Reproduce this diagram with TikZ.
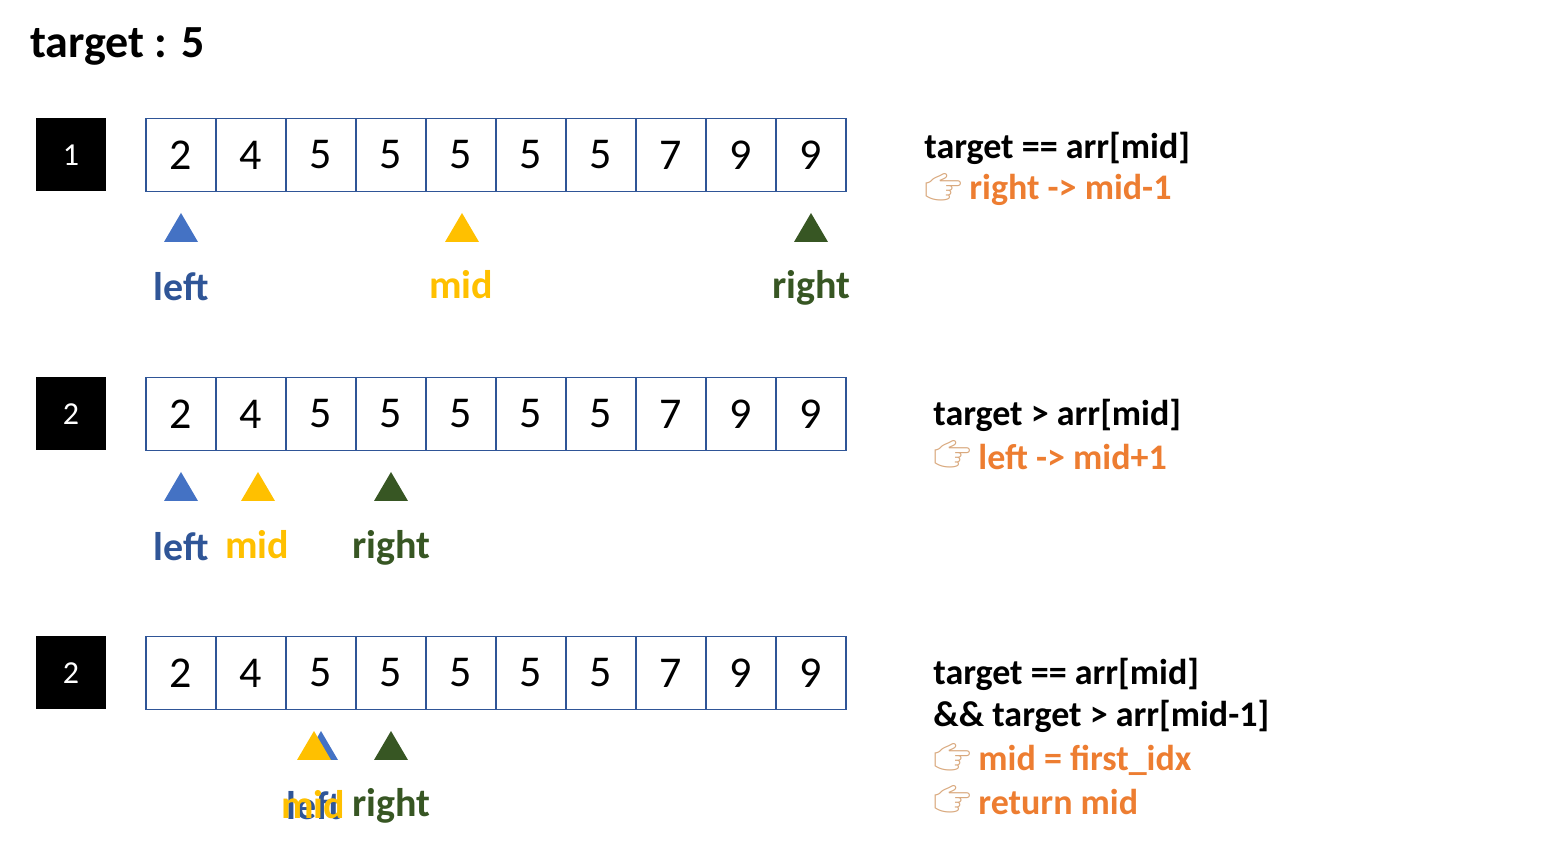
\documentclass[tikz,border=0pt]{standalone}
\usepackage{fontspec}
\setmainfont{Carlito}
\newfontfamily\emo{Noto Emoji}
\definecolor{cblue}{HTML}{4472C4}
\definecolor{ldblue}{HTML}{2F5597}
\definecolor{cyel}{HTML}{FFC000}
\definecolor{cgrn}{HTML}{375623}
\definecolor{corg}{HTML}{ED7D31}
\definecolor{skin}{HTML}{D9A97E}
\begin{document}
\begin{tikzpicture}[x=0.5pt,y=-0.5pt,
  cell/.style={draw=ldblue,line width=0.8pt,minimum width=35pt,minimum height=36.5pt,inner sep=0pt,font=\fontsize{22}{24}\selectfont},
  stepbox/.style={fill=black,text=white,minimum width=35pt,minimum height=36.5pt,inner sep=0pt,font=\fontsize{16}{18}\selectfont},
  lbl/.style={font=\bfseries\fontsize{20}{22}\selectfont,inner sep=0pt},
  txt/.style={font=\bfseries\fontsize{18}{21}\selectfont,anchor=west,inner sep=0pt},
  otxt/.style={txt,text=corg},
  hand/.style={font=\emo\fontsize{15}{17}\selectfont,text=skin,anchor=west,inner sep=0pt}]
\useasboundingbox (0,0) rectangle (1542,854);
\node[anchor=west,font=\bfseries\fontsize{23}{26}\selectfont,inner sep=0pt] (title) at (30,46) {target : 5};
\newcommand{\tri}[3]{\fill[#3] (#1-17,#2+14) -- (#1+17,#2+14) -- (#1,#2-15) -- cycle;}
\foreach \r/\y/\n in {1/155/1,2/414/2,3/673/2}{
  \node[stepbox] (s\r) at (71,\y) {\n};
  \foreach \v [count=\i] in {2,4,5,5,5,5,5,7,9,9}{
    \node[cell] (c\r-\i) at (146+70*\i-35,\y) {\v};
  }
}
% row 1
\tri{181}{228}{cblue}
\tri{462}{228}{cyel}
\tri{811}{228}{cgrn}
\node[lbl,text=ldblue] (l1) at (181,287) {left};
\node[lbl,text=cyel] (m1) at (461,285) {mid};
\node[lbl,text=cgrn] (r1) at (811,288) {right};
% row 2
\tri{181}{487}{cblue}
\tri{258}{487}{cyel}
\tri{391}{487}{cgrn}
\node[lbl,text=ldblue] (l2) at (181,547) {left};
\node[lbl,text=cyel] (m2) at (257,545) {mid};
\node[lbl,text=cgrn] (r2) at (391,548) {right};
% row 3
\tri{321}{746}{cblue}
\tri{314}{746}{cyel}
\tri{391}{746}{cgrn}
\node[lbl,text=ldblue] (l3) at (314,806) {left};
\node[lbl,text=cyel] (m3) at (313,805) {mid};
\node[lbl,text=cgrn] (r3) at (391,806) {right};
% texts
\node[txt] (t1) at (924,148) {target == arr[mid]};
\node[hand] (h1) at (924,187) {👉};
\node[otxt] (o1) at (969,190) {right -> mid-1};
\node[txt] (t2) at (933,415) {target > arr[mid]};
\node[hand] (h2) at (933,454) {👉};
\node[otxt] (o2) at (978,457) {left -> mid+1};
\node[txt] (t3) at (933,674) {target == arr[mid]};
\node[txt] (t4) at (933,716) {\&\& target > arr[mid-1]};
\node[hand] (h3) at (933,757) {👉};
\node[otxt] (o3) at (978,760) {mid = first\_idx};
\node[hand] (h4) at (933,799) {👉};
\node[otxt] (o4) at (978,802) {return mid};
\end{tikzpicture}
\end{document}
